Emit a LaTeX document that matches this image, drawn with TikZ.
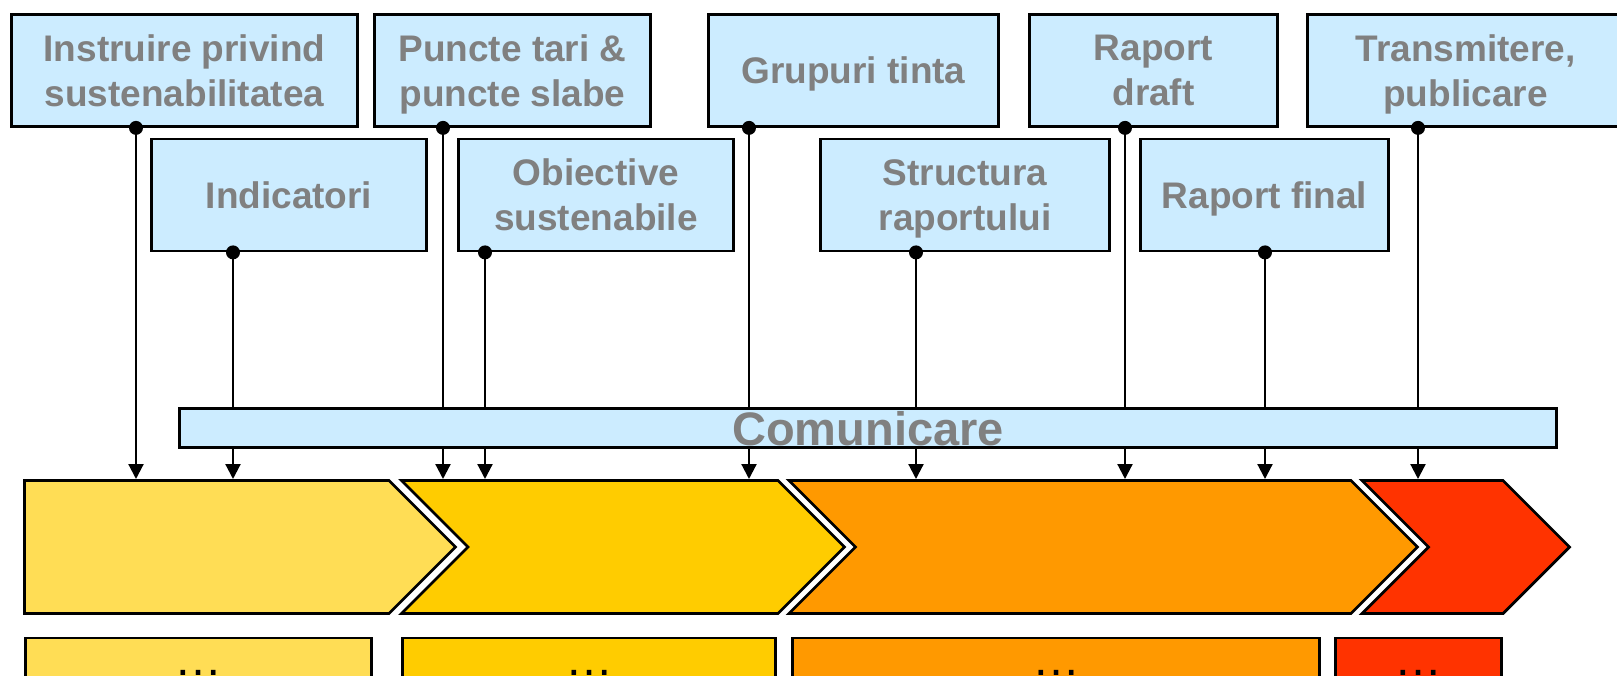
\documentclass[tikz,border=0pt]{standalone}
\usepackage{fontspec}
\setmainfont{Liberation Sans}
\usetikzlibrary{arrows.meta, positioning, backgrounds}

\definecolor{taskblue}{HTML}{CCECFF}
\definecolor{labelgray}{HTML}{808080}
\definecolor{phaseA}{HTML}{FFDD55}
\definecolor{phaseB}{HTML}{FFCC00}
\definecolor{phaseC}{HTML}{FF9900}
\definecolor{phaseD}{HTML}{FF3300}

\begin{document}
\begin{tikzpicture}[
      x=1pt, y=-1pt,
      task/.style={rectangle, draw, line width=2.8pt, fill=taskblue, inner sep=0pt,
        minimum height=112pt, align=center, text depth=0pt, text=labelgray,
        font=\fontsize{37}{45}\selectfont\bfseries},
      phase/.style={draw, line width=2.8pt, line join=miter},
      detail/.style={rectangle, draw, line width=2.8pt, inner sep=0pt, anchor=north,
        text height=37.5pt, text depth=3.5pt, font=\fontsize{48}{50}\selectfont},
      >={Triangle[length=15pt, width=15pt]}
    ]

    \useasboundingbox (0,0) rectangle (1617,676);

    % Tasks, upper row
    \node[task, minimum width=346pt] (instr) at (184.5,70.5) {Instruire privind\\sustenabilitatea};
    \node[task, minimum width=276pt] (strengths) at (512.5,70.5) {Puncte tari \&\\puncte slabe};
    \node[task, minimum width=290pt] (groups) at (853.5,70.5) {Grupuri tinta};
    \node[task, minimum width=248pt] (draft) at (1153.5,70.5) {Raport\\draft};
    \node[task, minimum width=316pt] (publish) at (1465.5,70.5) {Transmitere,\\publicare};

    % Tasks, lower row
    \node[task, minimum width=275pt] (indic) at (289,195) {Indicatori};
    \node[task, minimum width=275pt] (goals) at (596,195) {Obiective\\sustenabile};
    \node[task, minimum width=289pt] (structure) at (965,195) {Structura\\raportului};
    \node[task, minimum width=248pt] (final) at (1264.5,195) {Raport final};

    % Communication bar
    \node[task, minimum width=1377pt, minimum height=39pt,
      font=\fontsize{47}{50}\selectfont\bfseries] (comm) at (868,428) {Comunicare};

    % Phases
    \coordinate (phase top) at (0,479);
    \draw[phase, fill=phaseA] (24.5,480.5) -- (389,480.5) -- (455.5,547) -- (389,613.5)
      -- (24.5,613.5) -- cycle;
    \draw[phase, fill=phaseB] (401.5,480.5) -- (778,480.5) -- (844.5,547) -- (778,613.5)
      -- (401.5,613.5) -- (468,547) -- cycle;
    \draw[phase, fill=phaseC] (789,480.5) -- (1351,480.5) -- (1417.5,547) -- (1351,613.5)
      -- (789,613.5) -- (855.5,547) -- cycle;
    \draw[phase, fill=phaseD] (1362,480.5) -- (1503,480.5) -- (1569.5,547) -- (1503,613.5)
      -- (1362,613.5) -- (1428.5,547) -- cycle;

    % Details below the phases
    \node[detail, fill=phaseA, minimum width=346pt] (detailA) at (198.5,636.5) {…};
    \node[detail, fill=phaseB, minimum width=373pt] (detailB) at (589,636.5) {…};
    \node[detail, fill=phaseC, minimum width=527pt] (detailC) at (1056,636.5) {…};
    \node[detail, fill=phaseD, minimum width=166pt] (detailD) at (1418.5,636.5) {…};

    % Connections
    \foreach \n/\x in {instr/136, strengths/443, groups/749, draft/1125, publish/1418,
        indic/233, goals/485, structure/916, final/1265} {
      \coordinate (\n-x) at (\x,0);
      \fill (\n.south -| \n-x) circle (7pt);
      \begin{scope}[on background layer]
        \draw[->, line width=2.2pt] (\n.south -| \n-x) -- (\n-x |- phase top);
      \end{scope}
    }

\end{tikzpicture}
\end{document}
